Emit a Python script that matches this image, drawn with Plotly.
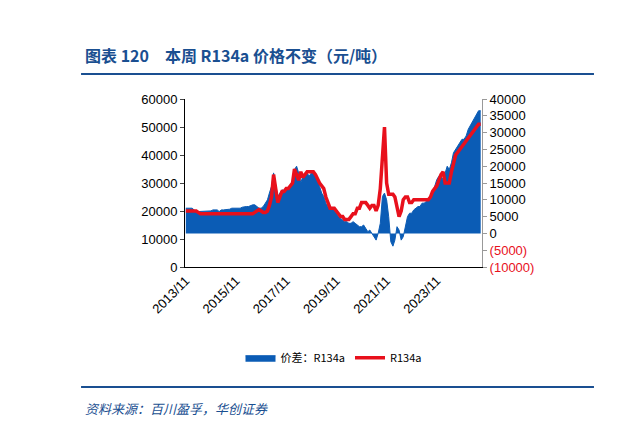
import pandas as pd
import plotly.graph_objects as go

# monthly, 2013/11 - 2025/08
months = pd.date_range("2013-11-01", periods=142, freq="MS")

# R134a price (yuan/ton, thousands) - left axis
r134a = [20, 20, 20, 20, 20, 20, 19.5, 19, 19, 19, 19, 19,
         19, 19, 19, 19, 19, 19, 19, 19, 19, 19, 19, 19,
         19, 19, 19, 19, 19, 19, 19, 19, 19, 19.5, 20, 20.5,
         20, 19.5, 19.5, 20, 22, 25, 33, 28, 23, 25, 27, 27,
         28, 28, 29, 30, 35, 33, 31, 34, 32, 33, 34, 34,
         34, 34, 33, 31, 30, 29, 28, 25, 23, 21, 21, 21,
         20, 19, 18, 18, 17, 17, 17, 18, 19, 19, 21, 21,
         23, 23, 23, 22, 21, 22, 22, 20, 22, 28, 38, 50,
         30, 26, 26, 26, 25, 22, 18, 20, 24, 25, 25, 23,
         23, 24, 24, 24, 24, 24, 24, 24, 24, 25, 27, 28,
         29, 31, 33, 34, 30, 30, 30, 34, 37, 40, 41, 42,
         43, 44, 45, 46, 47, 48, 49, 50, 51, 51]

# price spread (thousands) - right axis
spread = [7.5, 7.5, 7.5, 7.5, 7, 6.5, 6.5, 6.5, 6.7, 6.7, 6.7, 6.7,
          6.7, 7, 7, 7, 6.5, 7, 7, 7, 7, 7.2, 7.5, 7.5,
          7.5, 7.5, 7.5, 7.8, 8, 8, 8, 8.3, 8.5, 8.5, 8, 7.5,
          7.5, 8, 9, 10, 12, 14, 18, 14, 11, 12, 13, 12.5,
          13, 13.5, 14, 15, 19, 20, 18, 15, 17, 18, 18, 17,
          18, 18, 17, 16, 14, 12, 11, 9, 8, 7.5, 7, 7,
          6, 5, 4.5, 4, 3.5, 3.5, 3, 3, 3.5, 3, 2.5, 2,
          2, 2.5, 1.5, 0.5, 1, 0, -1, -2, 0, 3, 11, 12,
          10, 5, -2.5, -3.8, -2, 2, 1, -2, -1, 2, 5, 6,
          6, 7, 7.5, 8, 8, 9, 9, 9.5, 10, 10.5, 12, 14,
          16, 17, 17, 16, 18, 20, 19, 21, 24, 25, 26, 27,
          28, 28, 29, 31, 32, 33, 34, 35, 36.5, 36.5]

x_ticks = ["2013-11-01", "2015-11-01", "2017-11-01", "2019-11-01", "2021-11-01", "2023-11-01"]
x_labels = ["2013/11", "2015/11", "2017/11", "2019/11", "2021/11", "2023/11"]
left_ticks = [0, 10000, 20000, 30000, 40000, 50000, 60000]
right_ticks = [-10000, -5000, 0, 5000, 10000, 15000, 20000, 25000, 30000, 35000, 40000]
right_labels = ['<span style="color:#e8101c">(10000)</span>', '<span style="color:#e8101c">(5000)</span>'] + \
    [str(v) for v in right_ticks[2:]]

blue = "#0b5cb5"
red = "#e8101c"
navy = "#1a4f91"

fig = go.Figure()
fig.add_trace(go.Scatter(x=months, y=[v * 1000 for v in spread], name="价差：R134a",
                         fill="tozeroy", fillcolor=blue, line=dict(color=blue, width=1),
                         yaxis="y"))
fig.add_trace(go.Scatter(x=months, y=[v * 1000 for v in r134a], name="R134a",
                         line=dict(color=red, width=3.5), yaxis="y2"))

fig.update_layout(
    width=620, height=421, plot_bgcolor="white", paper_bgcolor="white",
    margin=dict(l=177, r=146, t=91, b=162, autoexpand=False),
    font=dict(family="Liberation Sans, Arial", size=13, color="black"),
    showlegend=True,
    legend=dict(orientation="h", x=0.5, xanchor="center", y=-0.54, yanchor="middle",
                font=dict(family="Noto Sans CJK SC", size=11)),
    xaxis=dict(range=["2013-10-20", "2025-08-20"], tickvals=x_ticks, ticktext=x_labels,
               tickangle=-45, showline=True, linecolor="black", ticks="", showgrid=False,
               automargin=False),
    yaxis=dict(side="right", range=[-10000, 40000], tickvals=right_ticks, ticktext=right_labels,
               showline=True, linecolor="#999999", ticks="outside", ticklen=4,
               tickcolor="#999999", showgrid=False, zeroline=False, automargin=False),
    yaxis2=dict(side="left", overlaying="y", range=[0, 60000], tickvals=left_ticks,
                ticktext=[str(v) for v in left_ticks],
                showline=True, linecolor="black", ticks="outside", ticklen=4,
                showgrid=False, zeroline=False, automargin=False),
)

fig.add_annotation(xref="paper", yref="paper", x=-0.343, y=1.26, xanchor="left", yanchor="middle",
                   text="<b>图表 120　本周 R134a 价格不变（元/吨）</b>", showarrow=False,
                   font=dict(family="Noto Sans CJK SC", size=16, color=navy))
fig.add_annotation(xref="paper", yref="paper", x=-0.343, y=-0.84, xanchor="left", yanchor="middle",
                   text="<i>资料来源：百川盈孚，华创证券</i>", showarrow=False,
                   font=dict(family="Noto Sans CJK SC", size=13, color=navy))
fig.add_shape(type="line", xref="paper", yref="paper", x0=-0.35, x1=1.377, y0=1.149, y1=1.149,
              line=dict(color=navy, width=2))
fig.add_shape(type="line", xref="paper", yref="paper", x0=-0.35, x1=1.377, y0=-0.714, y1=-0.714,
              line=dict(color=navy, width=2))

fig.write_html("out.html")
